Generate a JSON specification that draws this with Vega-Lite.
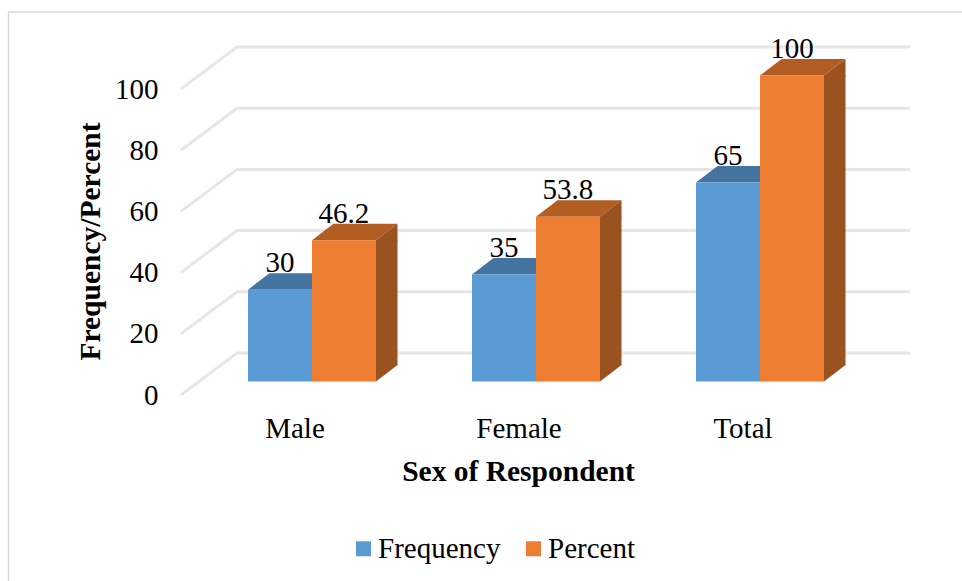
{
  "$schema": "https://vega.github.io/schema/vega-lite/v6.json",
  "width": 672,
  "height": 306,
  "autosize": {"type": "none"},
  "padding": {"left": 237, "top": 47, "right": 53, "bottom": 228},
  "background": "white",
  "view": {"stroke": null},
  "config": {"font": "Liberation Serif"},
  "datasets": {
    "bars": [
      {"Sex": "Male", "Series": "Frequency", "value": 30},
      {"Sex": "Male", "Series": "Percent", "value": 46.2},
      {"Sex": "Female", "Series": "Frequency", "value": 35},
      {"Sex": "Female", "Series": "Percent", "value": 53.8},
      {"Sex": "Total", "Series": "Frequency", "value": 65},
      {"Sex": "Total", "Series": "Percent", "value": 100}
    ],
    "ticks": [
      {"Sex": "Male", "tick": 0},
      {"Sex": "Male", "tick": 20},
      {"Sex": "Male", "tick": 40},
      {"Sex": "Male", "tick": 60},
      {"Sex": "Male", "tick": 80},
      {"Sex": "Male", "tick": 100}
    ],
    "frame": [{"Sex": "Male", "tick": 100}]
  },
  "data": {"name": "bars"},
  "layer": [
    {
      "description": "Chart frame: left and top edges",
      "data": {"name": "frame"},
      "mark": {"type": "point", "shape": "M-303.5,540L-303.5,-35L700,-35", "size": 4, "filled": false, "stroke": "#d9d9d9", "strokeWidth": 1.5, "opacity": 1},
      "encoding": {
        "x": {"field": "Sex", "type": "nominal", "sort": ["Male", "Female", "Total"]},
        "y": {"field": "tick", "type": "quantitative"}
      }
    },
    {
      "description": "Gridlines: slanted side wall and flat back wall",
      "data": {"name": "ticks"},
      "mark": {"type": "point", "shape": "M-131,42L-75,0L598,0", "size": 4, "filled": false, "stroke": "#e6e6e6", "strokeWidth": 3, "opacity": 1},
      "encoding": {
        "x": {"field": "Sex", "type": "nominal", "sort": ["Male", "Female", "Total"]},
        "y": {"field": "tick", "type": "quantitative"}
      }
    },
    {
      "description": "Top face of each bar",
      "mark": {"type": "point", "shape": "M-32,28.5L32,28.5L53.5,12L-10.5,12Z", "size": 4, "filled": true, "opacity": 1},
      "encoding": {
        "x": {"field": "Sex", "type": "nominal", "sort": ["Male", "Female", "Total"]},
        "xOffset": {"field": "Series", "type": "nominal"},
        "y": {"field": "value", "type": "quantitative"},
        "fill": {"condition": {"test": "datum.Series === 'Frequency'", "value": "#44749F"}, "value": "#B25D22"}
      }
    },
    {
      "description": "Side face, straight part, shown for the taller series only",
      "transform": [{"filter": "datum.Series === 'Percent'"}],
      "mark": {"type": "bar", "width": 21.5, "xOffset": 74.75, "yOffset": 28.5, "y2Offset": 12, "fill": "#9A5220"},
      "encoding": {
        "x": {"field": "Sex", "type": "nominal", "sort": ["Male", "Female", "Total"]},
        "y": {"field": "value", "type": "quantitative"},
        "y2": {"datum": 0}
      }
    },
    {
      "description": "Side face, upper slanted end, overlapping the straight part by a little",
      "mark": {"type": "point", "shape": "M32,28.5L53.5,12L53.5,29.5L32,29.5Z", "size": 4, "filled": true, "fill": "#9A5220", "opacity": 1},
      "encoding": {
        "x": {"field": "Sex", "type": "nominal", "sort": ["Male", "Female", "Total"]},
        "xOffset": {"field": "Series", "type": "nominal"},
        "y": {"field": "value", "type": "quantitative"}
      }
    },
    {
      "description": "Side face, lower slanted end, overlapping the straight part by a little",
      "mark": {"type": "point", "shape": "M32,11L53.5,11L53.5,12L32,28.5Z", "size": 4, "filled": true, "fill": "#9A5220", "opacity": 1},
      "encoding": {
        "x": {"field": "Sex", "type": "nominal", "sort": ["Male", "Female", "Total"]},
        "xOffset": {"field": "Series", "type": "nominal"},
        "y": {"datum": 0}
      }
    },
    {
      "description": "Front face of each bar, with axes and legend",
      "mark": {"type": "bar", "yOffset": 28.5, "y2Offset": 28.5},
      "encoding": {
        "x": {
          "field": "Sex",
          "type": "nominal",
          "sort": ["Male", "Female", "Total"],
          "scale": {"range": [-37, 635], "paddingInner": 0.4286, "paddingOuter": 0.2143},
          "axis": {
            "title": "Sex of Respondent",
            "titleFont": "Liberation Serif",
            "titleFontSize": 29.5,
            "titleFontWeight": "bold",
            "titleColor": "black",
            "titleX": 281,
            "titleY": 127,
            "titleBaseline": "alphabetic",
            "titleAnchor": "middle",
            "labelFont": "Liberation Serif",
            "labelFontSize": 29,
            "labelColor": "black",
            "labelAngle": 0,
            "labelAlign": "center",
            "labelOffset": -17,
            "labelPadding": 75,
            "ticks": false,
            "domain": false,
            "grid": false
          }
        },
        "xOffset": {
          "field": "Series",
          "type": "nominal",
          "scale": {"paddingInner": 0, "paddingOuter": 0}
        },
        "y": {
          "field": "value",
          "type": "quantitative",
          "scale": {"domain": [0, 100], "nice": false},
          "axis": {
            "values": [0, 20, 40, 60, 80, 100],
            "title": "Frequency/Percent",
            "titleFont": "Liberation Serif",
            "titleFontSize": 29.5,
            "titleFontWeight": "bold",
            "titleColor": "black",
            "titleX": -138,
            "titleY": 194,
            "titleAngle": -90,
            "titleBaseline": "alphabetic",
            "titleAnchor": "middle",
            "labelFont": "Liberation Serif",
            "labelFontSize": 29,
            "labelColor": "black",
            "labelOffset": 42,
            "labelPadding": 79,
            "ticks": false,
            "domain": false,
            "grid": false
          }
        },
        "y2": {"datum": 0},
        "color": {
          "field": "Series",
          "type": "nominal",
          "scale": {"domain": ["Frequency", "Percent"], "range": ["#5B9BD5", "#ED7D31"]},
          "legend": {
            "title": null,
            "orient": "none",
            "direction": "horizontal",
            "legendX": 112,
            "legendY": 487,
            "symbolType": "square",
            "symbolSize": 225,
            "symbolStrokeWidth": 0,
            "labelFont": "Liberation Serif",
            "labelFontSize": 29,
            "labelColor": "black",
            "labelOffset": 0,
            "columnPadding": 18,
            "labelLimit": 300
          }
        }
      }
    },
    {
      "description": "Value labels",
      "mark": {"type": "text", "font": "Liberation Serif", "fontSize": 29, "color": "black", "baseline": "alphabetic", "align": "center", "dy": 11},
      "encoding": {
        "x": {"field": "Sex", "type": "nominal", "sort": ["Male", "Female", "Total"]},
        "xOffset": {"field": "Series", "type": "nominal"},
        "y": {"field": "value", "type": "quantitative"},
        "text": {"field": "value", "type": "quantitative"}
      }
    }
  ]
}
